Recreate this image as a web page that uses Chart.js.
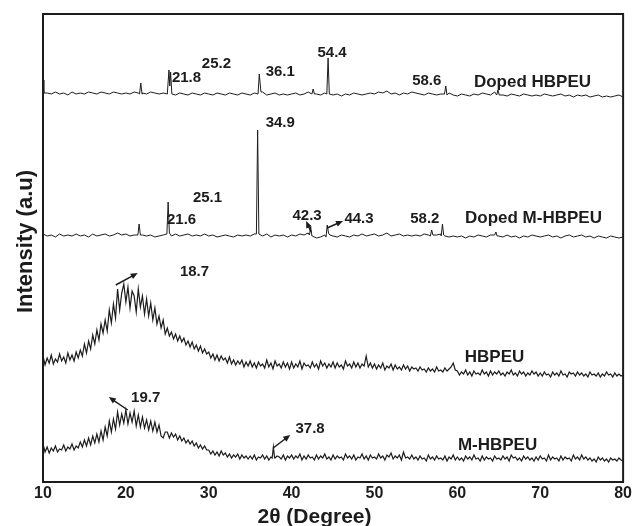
<!DOCTYPE html>
<html>
<head>
<meta charset="utf-8">
<script src="https://cdn.jsdelivr.net/npm/chart.js@4.4.1/dist/chart.umd.min.js"></script>
<style>
  html, body { margin: 0; padding: 0; background: #fff; }
  #wrap { width: 634px; height: 526px; }
</style>
</head>
<body>
<div id="wrap"><canvas id="xrd" width="634" height="526"></canvas></div>
<script>
// XRD patterns, 2θ from 10° to 80°
const thetaStart = 10, thetaEnd = 80;

// Sample names (top to bottom), their scan steps (°) and vertical stacking offsets (a.u.)
const seriesNames = ['Doped HBPEU', 'Doped M-HBPEU', 'HBPEU', 'M-HBPEU'];
const seriesStep = [0.5, 0.5, 0.25, 0.25];
const stackOffset = [380, 240, 100, 15];

// Background intensities, one row per 5°
const dopedHbpeu = [
  22, 9, 8, 10, 8, 9, 7, 10, 8, 9,
  8, 10, 9, 8, 10, 9, 8, 10, 9, 8,
  9, 8, 10, 9, 9, 8, 10, 9, 8, 9,
  8, 9, 7, 9, 8, 7, 9, 8, 7, 9,
  8, 7, 9, 8, 7, 9, 8, 7, 9, 8,
  7, 9, 8, 10, 7, 8, 9, 7, 8, 7,
  8, 9, 7, 8, 10, 9, 8, 7, 9, 8,
  7, 8, 6, 8, 7, 9, 8, 7, 8, 9,
  8, 10, 9, 11, 8, 9, 7, 9, 8, 10,
  9, 8, 7, 9, 8, 7, 8, 7, 9, 7,
  6, 8, 7, 6, 8, 7, 9, 8, 7, 10,
  8, 7, 6, 8, 7, 6, 8, 7, 6, 7,
  6, 8, 7, 6, 7, 8, 6, 7, 5, 7,
  6, 7, 5, 6, 7, 5, 6, 5, 6, 7,
  5
];
const dopedMHbpeu = [
  8, 6, 7, 5, 8, 6, 7, 6, 8, 6,
  7, 5, 8, 6, 7, 8, 6, 7, 9, 7,
  8, 6, 7, 6, 7, 6, 7, 5, 6, 7,
  7, 6, 8, 6, 7, 8, 6, 7, 6, 8,
  6, 7, 5, 6, 7, 6, 5, 7, 6, 7,
  6, 8, 7, 6, 8, 5, 7, 6, 7, 5,
  7, 6, 8, 7, 9, 6, 4, 5, 7, 6,
  6, 5, 7, 6, 5, 7, 6, 8, 6, 7,
  8, 6, 7, 9, 6, 7, 8, 6, 7, 6,
  7, 6, 8, 7, 6, 7, 8, 6, 5, 6,
  5, 6, 4, 6, 5, 7, 6, 5, 7, 8,
  6, 5, 7, 5, 6, 4, 6, 5, 7, 6,
  5, 6, 7, 5, 6, 4, 6, 7, 5, 6,
  7, 5, 6, 4, 6, 5, 4, 6, 5, 4,
  5
];
const hbpeu = [
  26, 17, 24, 19, 27, 18, 23, 20, 28, 21, 25, 19, 29, 22, 27, 21, 30, 24, 32, 26,
  38, 29, 41, 33, 47, 38, 52, 42, 58, 49, 62, 51, 72, 59, 78, 64, 93, 72, 89, 98,
  80, 95, 74, 91, 86, 70, 93, 75, 86, 68, 83, 66, 79, 62, 74, 58, 66, 54, 62, 48,
  54, 46, 50, 43, 48, 41, 46, 40, 44, 37, 41, 35, 40, 33, 37, 31, 36, 29, 33, 28,
  30, 24, 28, 22, 27, 21, 26, 22, 24, 19, 25, 18, 22, 17, 21, 18, 22, 15, 20, 16,
  21, 15, 19, 14, 20, 16, 18, 14, 22, 15, 19, 13, 21, 16, 18, 14, 20, 15, 19, 13,
  20, 14, 18, 15, 21, 13, 19, 16, 17, 14, 20, 15, 18, 13, 21, 16, 19, 14, 18, 15,
  20, 14, 19, 15, 17, 13, 21, 16, 18, 14, 20, 15, 19, 14, 18, 16, 26, 15, 19, 14,
  18, 13, 17, 14, 19, 12, 16, 14, 18, 12, 17, 13, 15, 12, 17, 13, 16, 11, 15, 13,
  14, 11, 15, 12, 13, 10, 14, 11, 13, 10, 15, 11, 12, 10, 14, 11, 13, 15, 19, 12,
  11, 7, 10, 8, 12, 7, 10, 6, 11, 8, 9, 7, 12, 8, 10, 6, 11, 7, 10, 8,
  11, 7, 9, 6, 10, 8, 12, 7, 9, 6, 11, 8, 10, 6, 9, 7, 11, 8, 10, 6,
  9, 6, 10, 7, 8, 5, 10, 7, 9, 6, 11, 7, 8, 5, 10, 8, 9, 6, 10, 7,
  9, 6, 8, 5, 10, 7, 8, 6, 9, 5, 8, 6, 10, 7, 8, 5, 9, 6, 8, 6,
  7
];
const mHbpeu = [
  23, 15, 20, 14, 19, 16, 21, 15, 18, 17, 22, 16, 20, 18, 23, 17, 21, 19, 25, 20,
  27, 21, 29, 22, 31, 24, 33, 25, 36, 27, 40, 31, 46, 35, 48, 38, 55, 42, 53, 44,
  57, 43, 54, 45, 56, 41, 52, 40, 50, 39, 47, 37, 46, 36, 45, 35, 42, 31, 29, 35,
  35, 29, 34, 30, 33, 27, 31, 26, 29, 24, 27, 23, 26, 21, 24, 19, 22, 18, 21, 17,
  17, 13, 16, 12, 15, 11, 16, 12, 14, 10, 13, 9, 12, 10, 13, 8, 12, 9, 11, 8,
  11, 8, 12, 7, 10, 9, 12, 8, 11, 7, 10, 8, 9, 11, 10, 8, 12, 7, 11, 9,
  12, 8, 11, 9, 13, 7, 11, 8, 12, 9, 10, 7, 12, 8, 11, 9, 13, 8, 10, 7,
  12, 8, 11, 9, 10, 7, 13, 9, 11, 8, 12, 7, 10, 9, 13, 8, 11, 7, 12, 9,
  10, 8, 13, 9, 11, 7, 12, 10, 14, 8, 11, 9, 12, 7, 15, 9, 10, 8, 12, 8,
  10, 7, 11, 8, 9, 6, 12, 8, 10, 7, 11, 8, 9, 7, 11, 6, 10, 8, 12, 7,
  10, 7, 9, 6, 11, 8, 10, 7, 12, 8, 9, 6, 11, 7, 10, 8, 9, 6, 11, 8,
  9, 7, 11, 8, 10, 6, 12, 9, 10, 7, 9, 6, 11, 8, 10, 7, 9, 6, 10, 7,
  11, 8, 9, 6, 12, 7, 10, 8, 9, 6, 11, 7, 10, 8, 9, 6, 12, 8, 10, 7,
  12, 8, 10, 7, 9, 6, 8, 5, 10, 7, 9, 6, 8, 5, 9, 7, 8, 6, 9, 7,
  6
];

// Sharp reflections: each group is a run of [2θ, intensity] points
const dopedHbpeuPeaks = [
  [[10, 22], [10.1, 9]],
  [[21.65, 8], [21.8, 19], [21.95, 8]],
  [[25.05, 8], [25.2, 32], [25.3, 16], [25.4, 30], [25.55, 8]],
  [[35.95, 8], [36.1, 28], [36.3, 10]],
  [[42.45, 8], [42.6, 13], [42.75, 8]],
  [[44.25, 8], [44.4, 44], [44.55, 8]],
  [[58.45, 8], [58.6, 16], [58.75, 7]],
  [[64.75, 7], [64.9, 12], [65.05, 7]]
];
const dopedMHbpeuPeaks = [
  [[21.45, 7], [21.6, 18], [21.75, 7]],
  [[24.95, 8], [25.1, 40], [25.25, 9]],
  [[35.75, 8], [35.9, 112], [36.05, 8]],
  [[42.15, 7], [42.3, 15], [42.45, 6]],
  [[44.15, 5], [44.3, 17], [44.45, 9], [44.6, 7]],
  [[56.75, 6], [56.9, 12], [57.05, 7]],
  [[58.05, 6], [58.2, 18], [58.35, 7]],
  [[64.5, 7], [64.65, 10], [64.8, 6]]
];
const hbpeuPeaks = [];
const mHbpeuPeaks = [
  [[37.65, 9], [37.8, 20], [37.95, 9]]
];

// Peak and sample labels: [text, 2θ, stacked intensity]
const peakLabels = [
  ['21.8', 27.32, 405], ['25.2', 30.93, 419], ['36.1', 38.63, 411],
  ['54.4', 44.88, 430], ['58.6', 56.31, 402],
  ['34.9', 38.63, 360], ['25.1', 29.85, 285], ['21.6', 26.72, 263],
  ['42.3', 41.87, 267], ['44.3', 48.13, 264], ['58.2', 56.07, 264],
  ['18.7', 28.28, 211], ['19.7', 22.39, 85], ['37.8', 42.23, 54]
];
const sampleLabels = [
  ['Doped HBPEU', 69.06, 401], ['Doped M-HBPEU', 69.18, 265],
  ['HBPEU', 64.49, 126], ['M-HBPEU', 64.85, 38]
];
// Pointer arrows: [from 2θ, from I, to 2θ, to I]
const pointers = [
  [18.78, 197, 21.43, 209],
  [20.22, 72, 17.94, 85],
  [37.78, 34, 39.83, 47],
  [42.35, 250, 41.75, 261],
  [44.28, 254, 46.2, 261]
];

const ink = '#1c1c1c';
const fontFamily = "'Liberation Sans', Arial, Helvetica, sans-serif";

function buildSeries(grid, step, peaks, offset) {
  const spans = peaks.map(g => [g[0][0], g[g.length - 1][0]]);
  const pts = [];
  grid.forEach((v, i) => {
    const t = thetaStart + i * step;
    if (spans.some(([a, b]) => t >= a && t <= b)) return;
    pts.push({ x: t, y: v + offset });
  });
  peaks.forEach(g => g.forEach(([t, v]) => pts.push({ x: t, y: v + offset })));
  pts.sort((p, q) => p.x - q.x);
  return pts;
}

const grids = [dopedHbpeu, dopedMHbpeu, hbpeu, mHbpeu];
const peakSets = [dopedHbpeuPeaks, dopedMHbpeuPeaks, hbpeuPeaks, mHbpeuPeaks];

const datasets = seriesNames.map((name, i) => ({
  label: name,
  data: buildSeries(grids[i], seriesStep[i], peakSets[i], stackOffset[i]),
  borderColor: ink,
  borderWidth: seriesStep[i] < 0.5 ? 1.2 : 1,
  pointRadius: 0,
  tension: 0,
  fill: false
}));

function arrow(ctx, x1, y1, x2, y2) {
  const ang = Math.atan2(y2 - y1, x2 - x1);
  const L = 7, W = 3;
  ctx.beginPath();
  ctx.moveTo(x1, y1);
  ctx.lineTo(x2 - L * 0.7 * Math.cos(ang), y2 - L * 0.7 * Math.sin(ang));
  ctx.stroke();
  ctx.beginPath();
  ctx.moveTo(x2, y2);
  ctx.lineTo(x2 - L * Math.cos(ang) + W * Math.sin(ang), y2 - L * Math.sin(ang) - W * Math.cos(ang));
  ctx.lineTo(x2 - L * Math.cos(ang) - W * Math.sin(ang), y2 - L * Math.sin(ang) + W * Math.cos(ang));
  ctx.closePath();
  ctx.fill();
}

const decorations = {
  id: 'decorations',
  afterDraw(chart) {
    const { ctx, chartArea: a, scales: { x, y } } = chart;
    ctx.save();
    ctx.fillStyle = ink;
    ctx.strokeStyle = ink;

    // plot frame
    ctx.lineWidth = 2;
    ctx.strokeRect(a.left, a.top, a.right - a.left, a.bottom - a.top);

    // peak labels
    ctx.textAlign = 'center';
    ctx.textBaseline = 'alphabetic';
    ctx.font = `bold 15px ${fontFamily}`;
    peakLabels.forEach(([t, th, v]) => {
      ctx.fillText(t, x.getPixelForValue(th), y.getPixelForValue(v) + 5.4);
    });
    ctx.font = `bold 17px ${fontFamily}`;
    sampleLabels.forEach(([t, th, v]) => {
      ctx.fillText(t, x.getPixelForValue(th), y.getPixelForValue(v) + 6.1);
    });

    // arrows
    ctx.lineWidth = 1.5;
    pointers.forEach(([t1, v1, t2, v2]) => {
      arrow(ctx, x.getPixelForValue(t1), y.getPixelForValue(v1),
                 x.getPixelForValue(t2), y.getPixelForValue(v2));
    });

    // axis titles
    ctx.font = `bold 21px ${fontFamily}`;
    ctx.fillText('2θ (Degree)', a.left + (a.right - a.left) * 0.468, 523);
    ctx.save();
    ctx.translate(a.left - 11, (a.top + a.bottom) / 2 - 6.5);
    ctx.rotate(-Math.PI / 2);
    ctx.font = `bold 22px ${fontFamily}`;
    ctx.fillText('Intensity (a.u)', 0, 0);
    ctx.restore();

    ctx.restore();
  }
};

new Chart(document.getElementById('xrd'), {
  type: 'line',
  data: { datasets },
  options: {
    responsive: false,
    animation: false,
    devicePixelRatio: 1,
    layout: { padding: { left: 43, right: 9, top: 14, bottom: 0 } },
    plugins: { legend: { display: false }, tooltip: { enabled: false } },
    scales: {
      x: {
        type: 'linear',
        min: thetaStart,
        max: thetaEnd,
        grid: { display: false, drawTicks: false },
        border: { display: false },
        ticks: {
          stepSize: 10,
          color: ink,
          padding: 2,
          font: { family: fontFamily, size: 16, weight: 'bold' }
        },
        afterFit(scale) { scale.height = 44; }
      },
      y: {
        type: 'linear',
        min: 0,
        max: 468,
        display: false
      }
    }
  },
  plugins: [decorations]
});
</script>
</body>
</html>
